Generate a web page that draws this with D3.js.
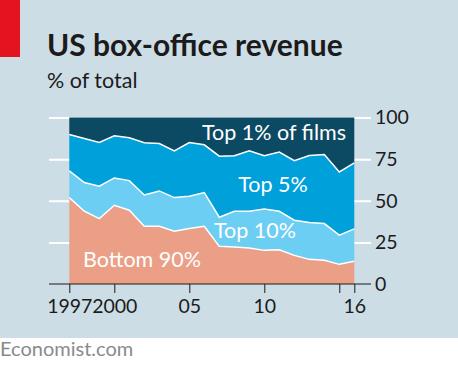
<!DOCTYPE html>
<html>
<head>
<meta charset="utf-8">
<script src="https://cdn.jsdelivr.net/npm/d3@7"></script>
<style>
  body { margin: 0; background: #fff; }
  svg text { font-family: Lato, "Noto Sans", sans-serif; }
</style>
</head>
<body>
<div id="chart"></div>
<script>
// shares of US box-office revenue, % of total
const years = [1997, 1998, 1999, 2000, 2001, 2002, 2003, 2004, 2005, 2006,
               2007, 2008, 2009, 2010, 2011, 2012, 2013, 2014, 2015, 2016];
const bottom90 = [51.9, 43.7, 39.3, 47.3, 44.3, 34.7, 34.7, 31.7, 33.3, 34.7,
                  22.6, 22.2, 21.6, 20.2, 20.6, 17.2, 14.8, 14.2, 11.8, 13.6];
const top10 = [16.0, 17.2, 19.4, 16.4, 17.8, 18.8, 21.2, 20.2, 19.4, 20.2,
               17.5, 21.5, 22.1, 24.9, 23.1, 21.1, 22.1, 22.1, 17.5, 19.5];
const top5 = [21.9, 26.5, 26.3, 25.3, 25.7, 31.3, 28.5, 28.1, 32.3, 28.7,
              36.7, 33.3, 36.3, 31.9, 35.5, 35.8, 40.3, 41.5, 38.0, 39.6];
const top1 = [10.2, 12.6, 15.0, 11.0, 12.2, 15.2, 15.6, 20.0, 15.0, 16.4,
              23.2, 23.0, 20.0, 23.0, 20.8, 25.9, 22.8, 22.2, 32.7, 27.3];
const keys = ["bottom90", "top10", "top5", "top1"];
const labels = ["Bottom 90%", "Top 10%", "Top 5%", "Top 1% of films"];
const yTicks = [0, 25, 50, 75, 100];
const xTicks = [1997, 2000, 2005, 2010, 2015, 2016];

const width = 458, height = 376;
const colors = {bottom90: "#eb9f87", top10: "#6dcef4", top5: "#00a1db", top1: "#0c4a64"};

const rows = years.map((yr, i) => ({
    year: yr, bottom90: bottom90[i], top10: top10[i], top5: top5[i], top1: top1[i]
}));

const svg = d3.select("#chart")
    .append("svg")
    .attr("width", width)
    .attr("height", height);

// panel background + red tag
svg.append("rect").attr("width", width).attr("height", 338).attr("fill", "#cddde6");
svg.append("rect").attr("width", 20).attr("height", 57).attr("fill", "#e3131f");

svg.append("text")
    .attr("x", 47).attr("y", 56)
    .attr("font-size", 30).attr("font-weight", "bold")
    .attr("fill", "#1b1b1b")
    .text("US box-office revenue");

svg.append("text")
    .attr("x", 47).attr("y", 88)
    .attr("font-size", 21.5)
    .attr("fill", "#1b1b1b")
    .text("% of total");

svg.append("text")
    .attr("x", 0).attr("y", 356)
    .attr("font-size", 20)
    .attr("fill", "#8a8a8a")
    .text("Economist.com");

const x = d3.scaleLinear().domain([1997, 2016]).range([69.3, 354.3]);
const y = d3.scaleLinear().domain([0, 100]).range([284, 117.5]);

// gridlines + right labels
const yAxis = svg.append("g")
    .attr("transform", "translate(371,0)")
    .call(d3.axisRight(y).tickValues(yTicks).tickSize(-322).tickPadding(4));
yAxis.select(".domain").remove();
yAxis.selectAll("line")
    .attr("stroke", "#fff").attr("stroke-width", 2)
    .filter(d => d === 0).remove();
yAxis.selectAll("text")
    .attr("font-size", 19.5).attr("fill", "#1b1b1b");

const series = d3.stack().keys(keys)(rows);

const area = d3.area()
    .x(d => x(d.data.year))
    .y0(d => y(d[0]))
    .y1(d => y(d[1]));

const line = d3.line()
    .x(d => x(d.data.year))
    .y(d => y(d[1]));

svg.append("g")
    .selectAll("path")
    .data(series)
    .join("path")
    .attr("d", area)
    .attr("fill", d => colors[d.key]);

svg.append("g")
    .selectAll("path")
    .data(series.slice(0, 3))
    .join("path")
    .attr("d", line)
    .attr("fill", "none")
    .attr("stroke", "#fff")
    .attr("stroke-width", 1.5);

// x axis
svg.append("line")
    .attr("x1", 49).attr("x2", 371)
    .attr("y1", y(0)).attr("y2", y(0))
    .attr("stroke", "#1b1b1b").attr("stroke-width", 1.2);

const xFmt = d => d === 2015 ? "" : (d < 2001 ? String(d) : String(d).slice(2));
const xAxis = svg.append("g")
    .attr("transform", `translate(0,${y(0)})`)
    .call(d3.axisBottom(x).tickValues(xTicks).tickSize(9).tickPadding(6).tickFormat(xFmt));
xAxis.select(".domain").remove();
xAxis.selectAll("line").attr("stroke", "#1b1b1b");
xAxis.selectAll("text").attr("font-size", 19.5).attr("fill", "#1b1b1b");

// band labels
const labelPos = [
    {x: 142, y: 267},
    {x: 255, y: 238},
    {x: 273, y: 192},
    {x: 274, y: 140}
];
svg.append("g")
    .selectAll("text")
    .data(labels)
    .join("text")
    .attr("x", (d, i) => labelPos[i].x)
    .attr("y", (d, i) => labelPos[i].y)
    .attr("text-anchor", "middle")
    .attr("font-size", 21.5)
    .attr("fill", "#fff")
    .text(d => d);
</script>
</body>
</html>
